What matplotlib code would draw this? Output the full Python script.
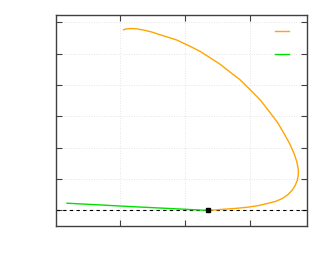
import matplotlib

matplotlib.use("Agg")
import matplotlib.pyplot as plt
from matplotlib.lines import Line2D

# orange branch (from the top end down to the junction point)
orange_x = [0.524, 0.550, 0.576, 0.625, 0.679, 0.740, 0.808, 0.870, 0.937, 1.040,
            1.120, 1.195, 1.270, 1.337, 1.420, 1.492, 1.580, 1.659, 1.715, 1.762,
            1.805, 1.840, 1.862, 1.874, 1.873, 1.866, 1.850, 1.827, 1.795, 1.750,
            1.700, 1.634, 1.560, 1.479, 1.380, 1.272, 1.177]
orange_y = [5.76, 5.79, 5.80, 5.79, 5.75, 5.69, 5.60, 5.52, 5.43, 5.23,
            5.06, 4.86, 4.66, 4.44, 4.18, 3.89, 3.52, 3.10, 2.79, 2.46,
            2.14, 1.82, 1.55, 1.29, 1.12, 0.97, 0.80, 0.65, 0.51, 0.38,
            0.29, 0.22, 0.15, 0.10, 0.06, 0.03, 0.0]

# green branch
green_x = [0.088, 0.601, 1.177]
green_y = [0.23, 0.118, 0.0]

# junction point
point_x = [1.177]
point_y = [0.0]

x_ticks = [0.5, 1.0, 1.5]
y_ticks = [0, 1, 2, 3, 4, 5, 6]

ORANGE = "#ffa500"
GREEN = "#00e000"

fig = plt.figure(figsize=(3.34, 2.75), dpi=100)
ax = fig.add_axes([0.1665, 0.179, 0.7525, 0.7675])

ax.axhline(0, color="black", ls=(0, (3, 3)), lw=0.8, zorder=2)
ax.plot(orange_x, orange_y, color=ORANGE, lw=1.0, zorder=3)
ax.plot(green_x, green_y, color=GREEN, lw=1.0, zorder=3)
ax.plot(point_x, point_y, "s", color="black", ms=2.2, zorder=4)

ax.set_xlim(0, 1.94)
ax.set_ylim(-0.49, 6.24)
ax.set_xticks(x_ticks)
ax.set_yticks(y_ticks)
ax.set_xticklabels([])
ax.set_yticklabels([])
ax.tick_params(direction="in", length=4, width=0.8, color="#404040",
               top=True, right=True)
ax.grid(color="#dddddd", ls=(0, (1, 2)), lw=0.6)
ax.set_axisbelow(True)
for s in ax.spines.values():
    s.set_color("#404040")
    s.set_linewidth(1.0)

handles = [Line2D([], [], color=ORANGE, lw=1.0), Line2D([], [], color=GREEN, lw=1.0)]
ax.legend(handles, ["", ""], loc="upper right", frameon=False,
          handlelength=1.0, handletextpad=0.0, labelspacing=0.64,
          bbox_to_anchor=(0.978, 1.01))

fig.savefig("out.png", dpi=100)
